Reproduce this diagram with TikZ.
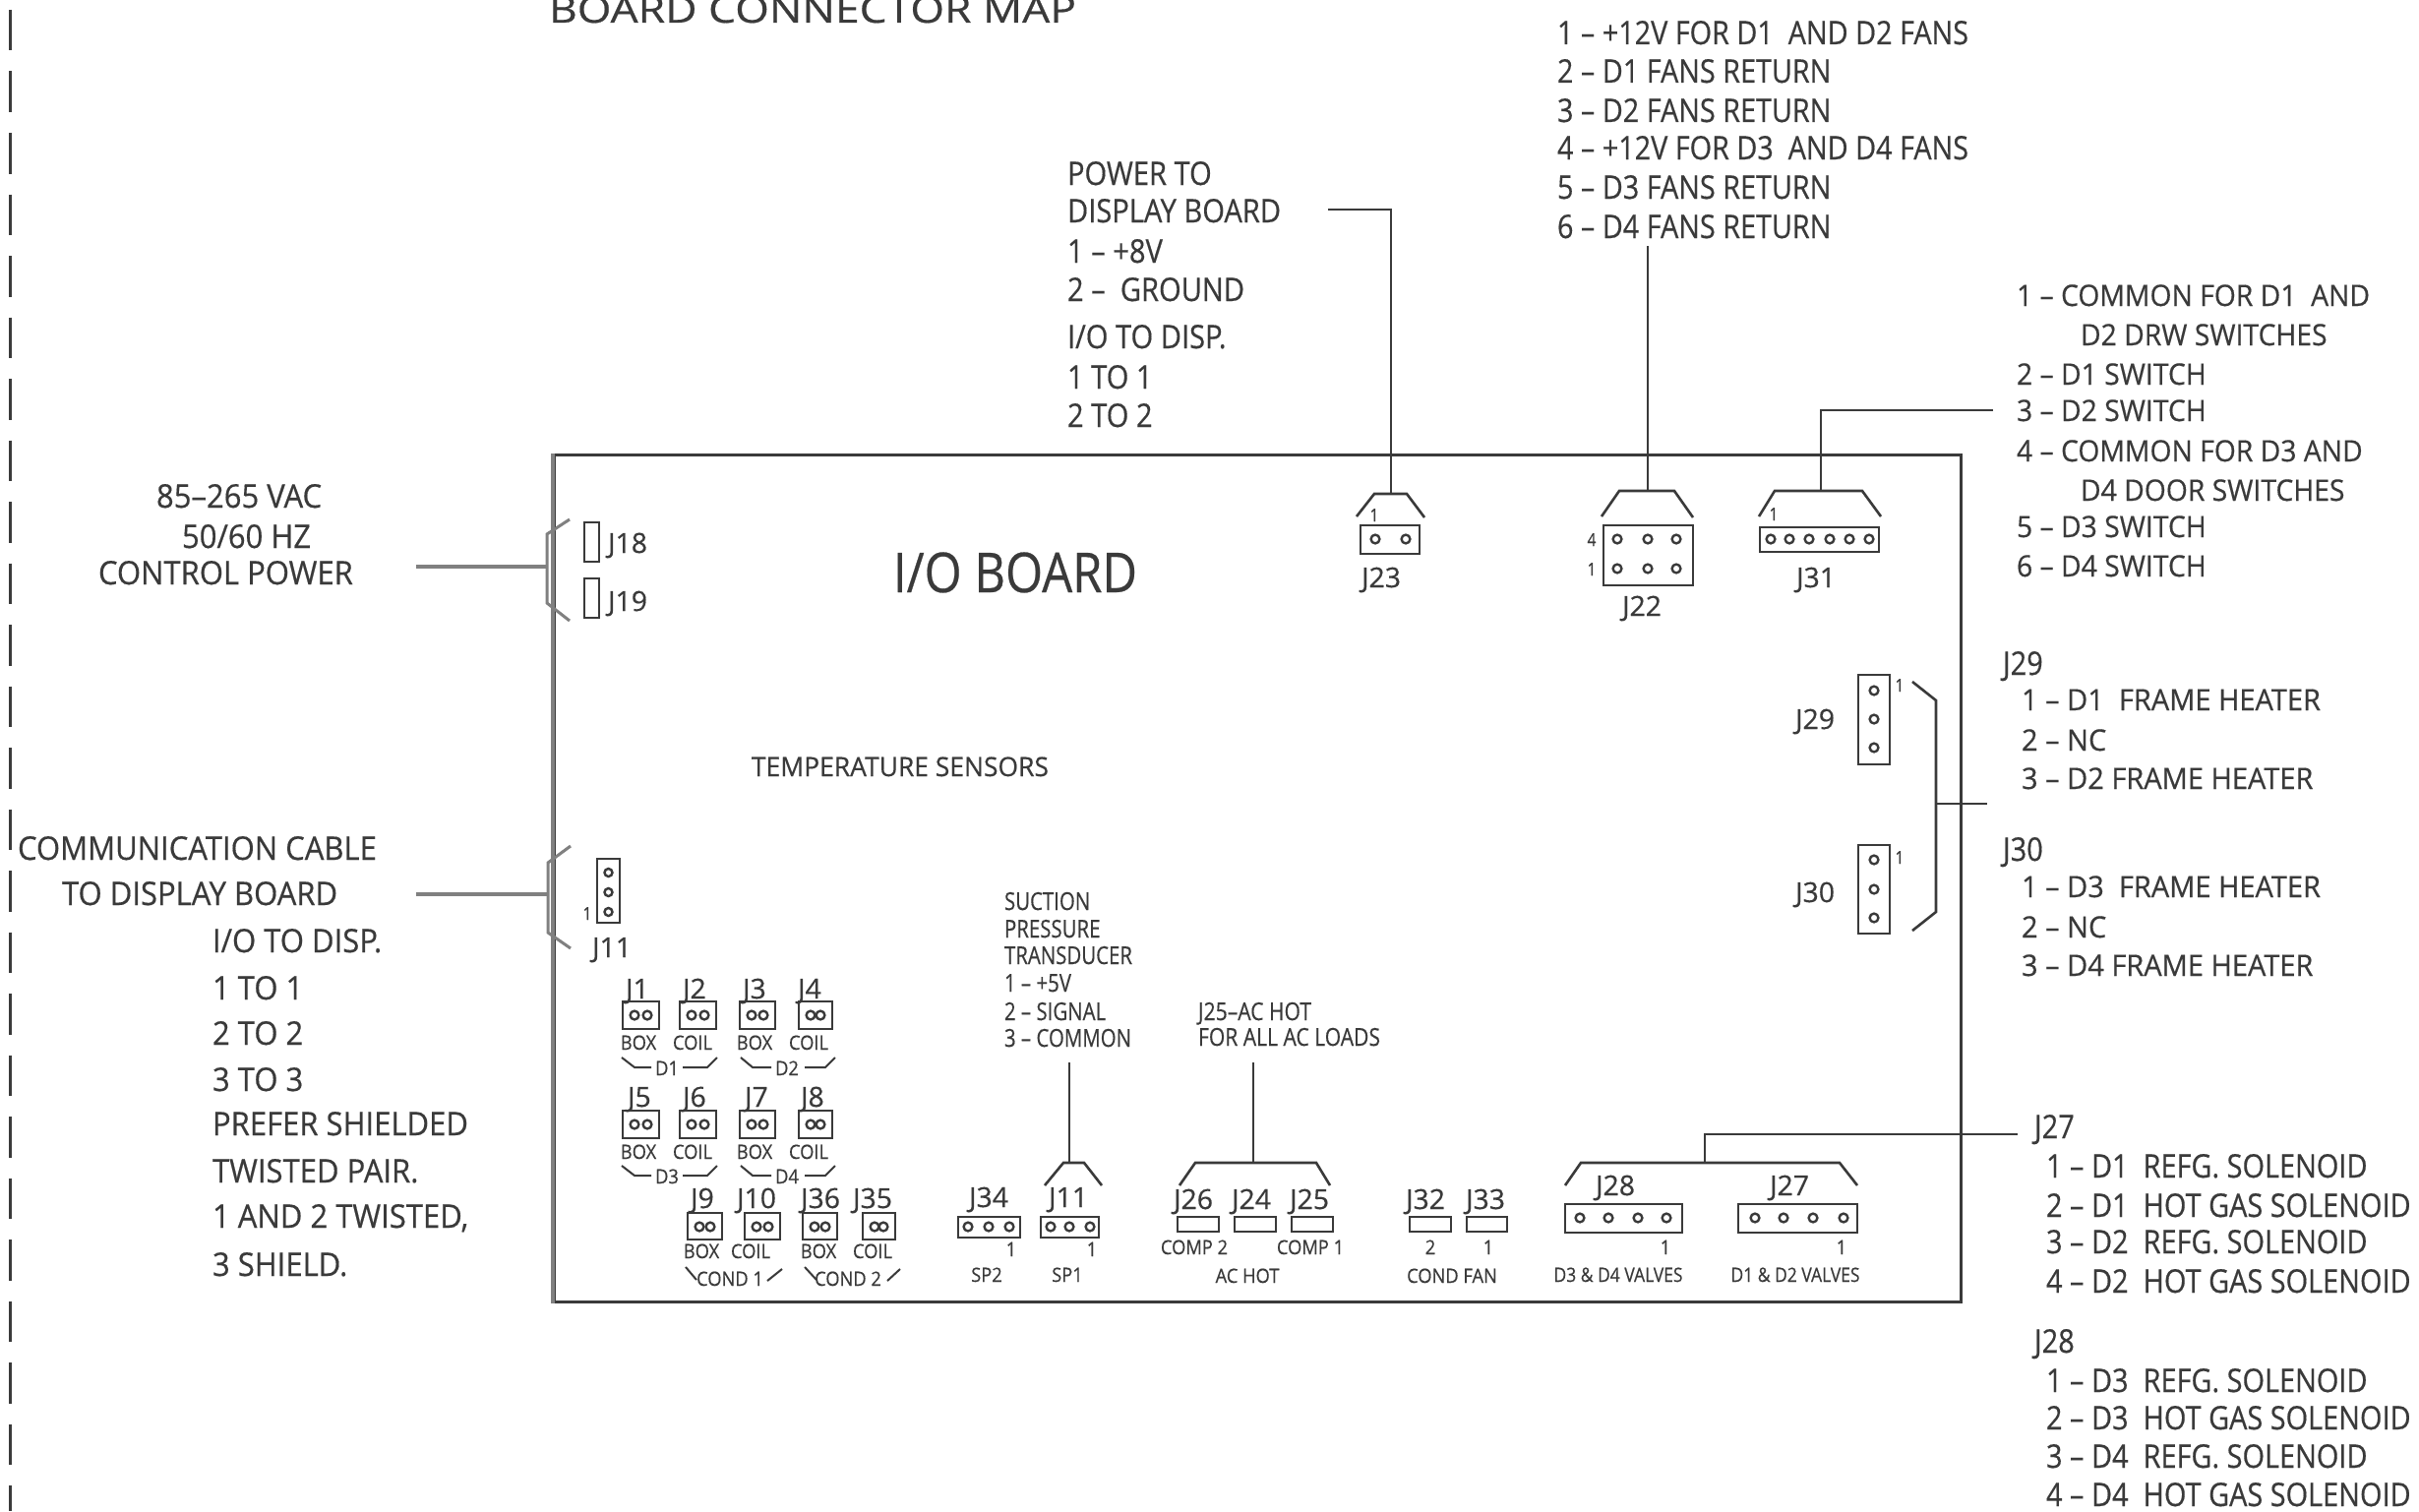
\documentclass[tikz,border=0pt]{standalone}
\usepackage{fontspec}
\usepackage{graphicx}
\setmainfont{Open Sans}[FakeBold=0.45]
\definecolor{ink}{HTML}{3A3A3A}
\definecolor{soft}{HTML}{808080}
% scale factor that makes #3 (set at size #2) exactly #4 wide
\newcommand\calib[4]{\setbox0=\hbox{\fontsize{#2}{#2}\selectfont #3}\pgfmathsetmacro#1{#4/(\the\wd0)}}
% \lab{name}{x}{y}{size}{xscale}{text}: left-aligned on the baseline
\newcommand\lab[6]{\node[txt,anchor=base west] (#1) at (#2,#3) {\fontsize{#4}{#4}\selectfont\scalebox{#5}[1]{#6}};}
\newcommand\clab[6]{\node[txt,anchor=base] (#1) at (#2,#3) {\fontsize{#4}{#4}\selectfont\scalebox{#5}[1]{#6}};}
% \cbox{name}{x1}{y1}{x2}{y2}: connector body as a node
\newcommand\cbox[5]{\pgfmathsetmacro\cx{(#2+#4)/2}\pgfmathsetmacro\cy{(#3+#5)/2}\pgfmathsetmacro\cw{#4-#2}\pgfmathsetmacro\ch{#5-#3}%
 \node[connbody,minimum width=\cw pt,minimum height=\ch pt] (#1) at (\cx,\cy) {};}
\newcommand\pins[2]{\foreach \px in {#2} {\draw[pinmark] (\px,#1) circle[radius=4.4];}}
\tikzset{
 txt/.style={inner sep=0pt,outer sep=0pt,text=ink},
 connbody/.style={draw=ink,line width=2.8pt,inner sep=0pt,outer sep=0pt,fill=white},
 pinmark/.style={draw=ink,line width=2.4pt},
 wire/.style={draw=ink,line width=2.6pt,line join=miter},
 softwire/.style={draw=soft,line width=4pt},
}
\AtBeginDocument{%
\calib\sTop{33pt}{1 – +12V FOR D1 \ AND D2 FANS}{418}%
\calib\sPow{33pt}{DISPLAY BOARD}{217}%
\calib\sLeft{33pt}{PREFER SHIELDED}{260}%
\calib\sCom{30pt}{COMMON FOR D1 \ AND}{314}%
\calib\sHeat{30pt}{FRAME HEATER}{205}%
\calib\sSol{33pt}{HOT GAS SOLENOID}{272}%
\calib\sSmall{20pt}{COIL}{40}%
\calib\sSuc{25pt}{TRANSDUCER}{130}%
\calib\sVal{20pt}{D3 \& D4 VALVES}{131}%
\calib\sJ{28pt}{J36}{40}%
\calib\sAc{25pt}{FOR ALL AC LOADS}{185}%
\calib\sIO{56pt}{I/O BOARD}{248}%
\calib\sTemp{27pt}{TEMPERATURE SENSORS}{302}%
\calib\sMap{38pt}{BOARD CONNECTOR MAP}{536}%
}
\begin{document}
\begin{tikzpicture}[x=1pt,y=-1pt]
\useasboundingbox (0,0) rectangle (2459,1536);
\fill[white] (0,0) rectangle (2459,1536);

% sheet edge dashes
\coordinate (dashA) at (10.5,10);
\coordinate (dashB) at (10.5,1536);
\draw[draw=ink,line width=2.6pt,dash pattern=on 41.5pt off 21pt] (dashA) -- (dashB);

% board
\node[draw=ink,line width=3pt,inner sep=0pt,minimum width=1430pt,minimum height=861pt] (board) at (1278,893) {};
\draw[softwire] (board.north west) -- (board.south west);

% titles
\lab{tmap}{558}{23}{38pt}{\sMap}{BOARD CONNECTOR MAP}
\lab{tio}{908}{602}{56pt}{\sIO}{I/O BOARD}
\lab{ttemp}{764}{789}{27pt}{\sTemp}{TEMPERATURE SENSORS}

% top fans list
\lab{f1}{1583}{45}{33pt}{\sTop}{1 – +12V FOR D1 \ AND D2 FANS}
\lab{f2}{1583}{84}{33pt}{\sTop}{2 – D1 FANS RETURN}
\lab{f3}{1583}{124}{33pt}{\sTop}{3 – D2 FANS RETURN}
\lab{f4}{1583}{162}{33pt}{\sTop}{4 – +12V FOR D3 \ AND D4 FANS}
\lab{f5}{1583}{202}{33pt}{\sTop}{5 – D3 FANS RETURN}
\lab{f6}{1583}{242}{33pt}{\sTop}{6 – D4 FANS RETURN}

% power list
\lab{p1}{1085}{188}{33pt}{\sPow}{POWER TO}
\lab{p2}{1085}{226}{33pt}{\sPow}{DISPLAY BOARD}
\lab{p3}{1085}{267}{33pt}{\sPow}{1 – +8V}
\lab{p4}{1085}{306}{33pt}{\sPow}{2 – \ GROUND}
\lab{p5}{1085}{354}{33pt}{\sPow}{I/O TO DISP.}
\lab{p6}{1085}{395}{33pt}{\sPow}{1 TO 1}
\lab{p7}{1085}{434}{33pt}{\sPow}{2 TO 2}

% left lists
\lab{l1}{159}{516}{33pt}{\sLeft}{85–265 VAC}
\lab{l2}{185}{557}{33pt}{\sLeft}{50/60 HZ}
\lab{l3}{100}{594}{33pt}{\sLeft}{CONTROL POWER}
\lab{c1}{18}{874}{33pt}{\sLeft}{COMMUNICATION CABLE}
\lab{c2}{63}{920}{33pt}{\sLeft}{TO DISPLAY BOARD}
\lab{c3}{216}{968}{33pt}{\sLeft}{I/O TO DISP.}
\lab{c4}{216}{1016}{33pt}{\sLeft}{1 TO 1}
\lab{c5}{216}{1062}{33pt}{\sLeft}{2 TO 2}
\lab{c6}{216}{1109}{33pt}{\sLeft}{3 TO 3}
\lab{c7}{216}{1154}{33pt}{\sLeft}{PREFER SHIELDED}
\lab{c8}{216}{1202}{33pt}{\sLeft}{TWISTED PAIR.}
\lab{c9}{216}{1248}{33pt}{\sLeft}{1 AND 2 TWISTED,}
\lab{c10}{216}{1297}{33pt}{\sLeft}{3 SHIELD.}

% right switch list
\lab{s1}{2050}{311}{30pt}{\sCom}{1 – COMMON FOR D1 \ AND}
\lab{s1b}{2115}{351}{30pt}{\sCom}{D2 DRW SWITCHES}
\lab{s2}{2050}{391}{30pt}{\sCom}{2 – D1 SWITCH}
\lab{s3}{2050}{428}{30pt}{\sCom}{3 – D2 SWITCH}
\lab{s4}{2050}{469}{30pt}{\sCom}{4 – COMMON FOR D3 AND}
\lab{s4b}{2115}{509}{30pt}{\sCom}{D4 DOOR SWITCHES}
\lab{s5}{2050}{546}{30pt}{\sCom}{5 – D3 SWITCH}
\lab{s6}{2050}{586}{30pt}{\sCom}{6 – D4 SWITCH}

% frame heater list
\lab{h0}{2036}{686}{33pt}{\sSol}{J29}
\lab{h1}{2055}{722}{30pt}{\sHeat}{1 – D1 \ FRAME HEATER}
\lab{h2}{2055}{763}{30pt}{\sHeat}{2 – NC}
\lab{h3}{2055}{802}{30pt}{\sHeat}{3 – D2 FRAME HEATER}
\lab{k0}{2036}{875}{33pt}{\sSol}{J30}
\lab{k1}{2055}{912}{30pt}{\sHeat}{1 – D3 \ FRAME HEATER}
\lab{k2}{2055}{953}{30pt}{\sHeat}{2 – NC}
\lab{k3}{2055}{992}{30pt}{\sHeat}{3 – D4 FRAME HEATER}

% solenoid list
\lab{v0}{2068}{1157}{33pt}{\sSol}{J27}
\lab{v1}{2080}{1197}{33pt}{\sSol}{1 – D1 \ REFG. SOLENOID}
\lab{v2}{2080}{1237}{33pt}{\sSol}{2 – D1 \ HOT GAS SOLENOID}
\lab{v3}{2080}{1274}{33pt}{\sSol}{3 – D2 \ REFG. SOLENOID}
\lab{v4}{2080}{1314}{33pt}{\sSol}{4 – D2 \ HOT GAS SOLENOID}
\lab{w0}{2068}{1375}{33pt}{\sSol}{J28}
\lab{w1}{2080}{1415}{33pt}{\sSol}{1 – D3 \ REFG. SOLENOID}
\lab{w2}{2080}{1453}{33pt}{\sSol}{2 – D3 \ HOT GAS SOLENOID}
\lab{w3}{2080}{1492}{33pt}{\sSol}{3 – D4 \ REFG. SOLENOID}
\lab{w4}{2080}{1531}{33pt}{\sSol}{4 – D4 \ HOT GAS SOLENOID}

% J18 J19
\cbox{bj18}{594}{531}{609}{571}
\cbox{bj19}{594}{588}{609}{628}
\lab{tj18}{618}{562}{28pt}{\sJ}{J18}
\lab{tj19}{618}{621}{28pt}{\sJ}{J19}
\draw[draw=soft,line width=3pt] (579,528) -- (556,543) -- (556,613) -- (579,631);
\coordinate (a1) at (423,576);
\coordinate (a2) at (556,576);
\draw[softwire] (a1) -- (a2);

% J11 comms
\cbox{bj11}{607}{873}{630}{938}
\foreach \py in {887,907,927} {\draw[pinmark] (618.5,\py) circle[radius=4];}
\clab{n11}{597}{935}{18pt}{0.85}{1}
\clab{tj11}{622}{973}{28pt}{\sJ}{J11}
\draw[draw=soft,line width=3pt] (580,860) -- (557,877) -- (557,948) -- (580,964);
\coordinate (b1) at (423,909);
\coordinate (b2) at (557,909);
\draw[softwire] (b1) -- (b2);

% J1-J8
\foreach \nm/\xa/\xb/\lx in {J1/633/670/636,J2/691/728/694,J3/752/788/755,J4/812/846/811} {
 \cbox{b\nm}{\xa}{1018}{\xb}{1046}
 \lab{t\nm}{\lx}{1015}{28pt}{\sJ}{\nm}
 \pgfmathsetmacro\pa{\xa+12}\pgfmathsetmacro\pb{\xb-12}
 \pins{1032}{\pa,\pb}
}
\foreach \nm/\xa/\xb/\lx in {J5/633/670/638,J6/691/728/694,J7/752/788/757,J8/812/846/814} {
 \cbox{b\nm}{\xa}{1129}{\xb}{1157}
 \lab{t\nm}{\lx}{1125}{28pt}{\sJ}{\nm}
 \pgfmathsetmacro\pa{\xa+12}\pgfmathsetmacro\pb{\xb-12}
 \pins{1143}{\pa,\pb}
}
\foreach \nm/\xa/\xb/\lx in {J9/699/734/702,J10/757/793/749,J36/816/851/814,J35/877/910/867} {
 \cbox{b\nm}{\xa}{1233}{\xb}{1260}
 \lab{t\nm}{\lx}{1228}{28pt}{\sJ}{\nm}
 \pgfmathsetmacro\pa{\xa+12}\pgfmathsetmacro\pb{\xb-12}
 \pins{1247}{\pa,\pb}
}
\foreach \i/\t/\x/\y in {1/BOX/649/1067,2/COIL/704/1067,3/BOX/767/1067,4/COIL/822/1067,
 5/BOX/649/1178,6/COIL/704/1178,7/BOX/767/1178,8/COIL/822/1178,
 9/BOX/713/1279,10/COIL/763/1279,11/BOX/832/1279,12/COIL/887/1279} {
 \clab{u\i}{\x}{\y}{20pt}{\sSmall}{\t}
}
\foreach \i/\t/\x/\y in {1/D1/678/1093,2/D2/800/1093,3/D3/678/1203,4/D4/800/1203,5/COND 1/742/1307,6/COND 2/862/1307} {
 \clab{d\i}{\x}{\y}{20pt}{\sSmall}{\t}
}
\foreach \dy in {0,110} {
 \draw[draw=ink,line width=2pt] (632,1075+\dy) -- (645,1085+\dy) -- (662,1085+\dy);
 \draw[draw=ink,line width=2pt] (694,1085+\dy) -- (719,1085+\dy) -- (729,1075+\dy);
 \draw[draw=ink,line width=2pt] (753,1075+\dy) -- (765,1085+\dy) -- (784,1085+\dy);
 \draw[draw=ink,line width=2pt] (818,1085+\dy) -- (839,1085+\dy) -- (849,1075+\dy);
}
\draw[draw=ink,line width=2pt] (697,1288) -- (708,1301);
\draw[draw=ink,line width=2pt] (780,1302) -- (795,1290);
\draw[draw=ink,line width=2pt] (818,1288) -- (830,1301);
\draw[draw=ink,line width=2pt] (902,1302) -- (915,1290);

% suction
\lab{q1}{1021}{925}{25pt}{\sSuc}{SUCTION}
\lab{q2}{1021}{953}{25pt}{\sSuc}{PRESSURE}
\lab{q3}{1021}{980}{25pt}{\sSuc}{TRANSDUCER}
\lab{q4}{1021}{1008}{25pt}{\sSuc}{1 – +5V}
\lab{q5}{1021}{1037}{25pt}{\sSuc}{2 – SIGNAL}
\lab{q6}{1021}{1064}{25pt}{\sSuc}{3 – COMMON}

% J34, J11 (SP)
\cbox{bj34}{974}{1237}{1037}{1258}
\pins{1247}{984,1005,1026}
\lab{tj34}{985}{1227}{28pt}{\sJ}{J34}
\clab{n34}{1028}{1277}{20pt}{\sSmall}{1}
\clab{sp2}{1003}{1303}{20pt}{\sSmall}{SP2}
\cbox{bjx}{1058}{1237}{1117}{1258}
\pins{1247}{1068,1087,1108}
\lab{tjx}{1066}{1227}{28pt}{\sJ}{J11}
\clab{nx}{1110}{1277}{20pt}{\sSmall}{1}
\clab{sp1}{1085}{1303}{20pt}{\sSmall}{SP1}
\draw[wire] (1062,1205) -- (1081,1182) -- (1102,1182) -- (1120,1205);
\coordinate (e1) at (1087,1080);
\coordinate (e2) at (1087,1182);
\draw[wire] (e1) -- (e2);

% AC hot
\lab{ac1}{1218}{1037}{25pt}{\sAc}{J25–AC HOT}
\lab{ac2}{1218}{1063}{25pt}{\sAc}{FOR ALL AC LOADS}
\draw[wire] (1199,1205) -- (1215,1182) -- (1338,1182) -- (1352,1205);
\coordinate (g1) at (1274,1080);
\coordinate (g2) at (1274,1182);
\draw[wire] (g1) -- (g2);
\cbox{bj26}{1197}{1237}{1239}{1252}
\cbox{bj24}{1255}{1237}{1297}{1252}
\cbox{bj25}{1313}{1237}{1355}{1252}
\lab{tj26}{1193}{1229}{28pt}{\sJ}{J26}
\lab{tj24}{1252}{1229}{28pt}{\sJ}{J24}
\lab{tj25}{1311}{1229}{28pt}{\sJ}{J25}
\clab{cp2}{1214}{1275}{20pt}{\sSmall}{COMP 2}
\clab{cp1}{1332}{1275}{20pt}{\sSmall}{COMP 1}
\clab{achot}{1268}{1304}{20pt}{\sSmall}{AC HOT}

% cond fan
\cbox{bj32}{1433}{1237}{1475}{1252}
\cbox{bj33}{1491}{1237}{1532}{1252}
\lab{tj32}{1429}{1229}{28pt}{\sJ}{J32}
\lab{tj33}{1490}{1229}{28pt}{\sJ}{J33}
\clab{n32}{1454}{1275}{20pt}{\sSmall}{2}
\clab{n33}{1513}{1275}{20pt}{\sSmall}{1}
\clab{cfan}{1476}{1304}{20pt}{\sSmall}{COND FAN}

% J28 J27
\cbox{bj28}{1591}{1224}{1710}{1253}
\cbox{bj27}{1767}{1224}{1888}{1253}
\pins{1238}{1606,1635,1665,1694}
\pins{1238}{1784,1813,1843,1874}
\lab{tj28}{1622}{1215}{28pt}{\sJ}{J28}
\lab{tj27}{1799}{1215}{28pt}{\sJ}{J27}
\clab{n28}{1693}{1275}{20pt}{\sSmall}{1}
\clab{n27}{1872}{1275}{20pt}{\sSmall}{1}
\clab{val2}{1645}{1303}{20pt}{\sVal}{D3 \& D4 VALVES}
\clab{val1}{1825}{1303}{20pt}{\sVal}{D1 \& D2 VALVES}
\draw[wire] (1591,1205) -- (1607,1182) -- (1870,1182) -- (1888,1205);
\coordinate (m1) at (1733,1182);
\coordinate (m2) at (1733,1153);
\coordinate (m3) at (2051,1153);
\draw[wire] (m1) -- (m2) -- (m3);

% J23
\cbox{bj23}{1383}{534}{1443}{563}
\pins{548}{1398,1429}
\lab{tj23}{1384}{597}{28pt}{\sJ}{J23}
\clab{n23}{1397}{530}{18pt}{0.85}{1}
\draw[wire] (1379,525) -- (1397,502) -- (1430,502) -- (1448,526);
\coordinate (r1) at (1350,213);
\coordinate (r2) at (1414,213);
\coordinate (r3) at (1414,502);
\draw[wire] (r1) -- (r2) -- (r3);

% J22
\cbox{bj22}{1630}{534}{1721}{595}
\pins{548}{1644,1675,1704}
\pins{578}{1644,1675,1704}
\clab{n224}{1618}{555}{18pt}{0.85}{4}
\clab{n221}{1618}{585}{18pt}{0.85}{1}
\lab{tj22}{1649}{626}{28pt}{\sJ}{J22}
\draw[wire] (1628,525) -- (1646,499) -- (1702,499) -- (1721,526);
\coordinate (t1) at (1675,250);
\coordinate (t2) at (1675,499);
\draw[wire] (t1) -- (t2);

% J31
\cbox{bj31}{1789}{536}{1910}{561}
\pins{548}{1800,1819,1839,1860,1880,1900}
\clab{n31}{1803}{529}{18pt}{0.85}{1}
\lab{tj31}{1826}{597}{28pt}{\sJ}{J31}
\draw[wire] (1788,525) -- (1804,499) -- (1893,499) -- (1912,525);
\coordinate (y1) at (2026,417);
\coordinate (y2) at (1851,417);
\coordinate (y3) at (1851,499);
\draw[wire] (y1) -- (y2) -- (y3);

% J29 J30
\cbox{bj29}{1889}{686}{1921}{777}
\cbox{bj30}{1889}{859}{1921}{949}
\foreach \py in {702,731,760,874,904,933} {\draw[pinmark] (1905,\py) circle[radius=4.4];}
\lab{tj29}{1825}{741}{28pt}{\sJ}{J29}
\lab{tj30}{1825}{917}{28pt}{\sJ}{J30}
\clab{n29}{1931}{703}{18pt}{0.85}{1}
\clab{n30}{1931}{878}{18pt}{0.85}{1}
\draw[wire] (1944,693) -- (1968,712) -- (1968,927) -- (1944,946);
\coordinate (z1) at (1968,817);
\coordinate (z2) at (2020,817);
\draw[wire] (z1) -- (z2);
\end{tikzpicture}
\end{document}
